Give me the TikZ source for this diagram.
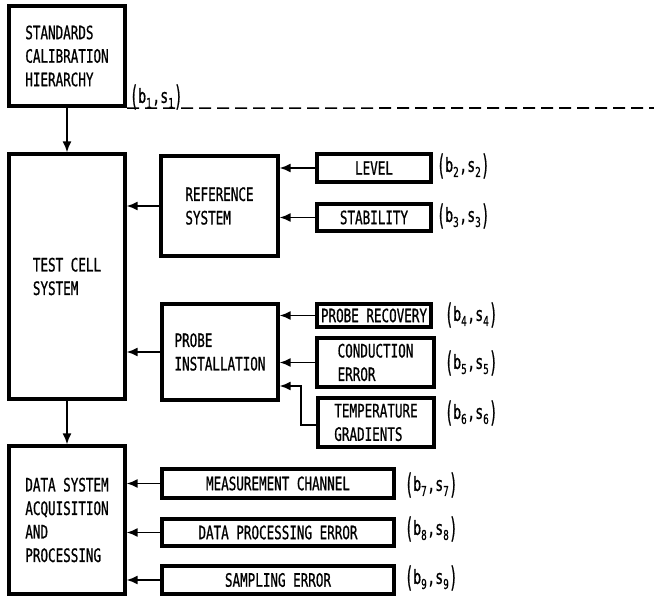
\documentclass[tikz,border=0pt]{standalone}
\usepackage{fontspec}
\newfontfamily\blockfont[FakeStretch=0.68, FakeBold=0.8]{DejaVu Sans Mono}
\usetikzlibrary{arrows.meta}
\newcommand{\bsl}[1]{\raisebox{-1pt}{\scalebox{1}[1.45]{(}}\raisebox{2pt}{b}\textsubscript{#1}\raisebox{2pt}{,s}\textsubscript{#1}\raisebox{-1pt}{\scalebox{1}[1.45]{)}}}

\tikzset{
  block/.style={draw, line width=3.2pt, align=left, inner sep=0pt,
    font=\blockfont\fontsize{18.5}{23.5}\selectfont},
  errbox/.style={block, line width=3.6pt},
  coef/.style={anchor=west, inner sep=0pt, font=\blockfont\fontsize{19.5}{19.5}\selectfont},
  feed/.style={line width=1.8pt, -{Latex[length=11pt,width=9pt]}}
}

\begin{document}
\begin{tikzpicture}[x=1pt, y=-1pt]
		%%%%% START %%%%%
		\useasboundingbox (0, 0) rectangle (654, 596);
		
		% left column
		\node[block, line width=4.2pt, minimum width=116pt, minimum height=100pt] (std) at (67, 56) {STANDARDS\\CALIBRATION\\HIERARCHY};
		\node[block, minimum width=116pt, minimum height=245pt] (test) at (67, 276.5) {TEST CELL\\SYSTEM};
		\node[block, minimum width=116pt, minimum height=148pt] (data) at (67, 520) {DATA SYSTEM\\ACQUISITION\\AND\\PROCESSING};
		
		% middle column
		\node[block, minimum width=117pt, minimum height=100pt] (ref) at (219.5, 206) {REFERENCE\\SYSTEM};
		\node[block, minimum width=116pt, minimum height=96pt] (probe) at (220, 352) {PROBE\\INSTALLATION};
		
		% error sources
		\node[errbox, minimum width=114pt, minimum height=28pt] (level) at (374, 168) {LEVEL};
		\node[errbox, minimum width=114pt, minimum height=27pt] (stab) at (374, 217.5) {STABILITY};
		\node[errbox, minimum width=114pt, minimum height=23pt] (recov) at (374, 315.5) {PROBE RECOVERY};
		\node[errbox, minimum width=117pt, minimum height=49pt] (cond) at (375.5, 362.5) {CONDUCTION\\ERROR};
		\node[errbox, minimum width=116pt, minimum height=49pt] (temp) at (376, 422.5) {TEMPERATURE\\GRADIENTS};
		\node[errbox, minimum width=232pt, minimum height=29pt] (meas) at (278, 483.5) {MEASUREMENT CHANNEL};
		\node[errbox, minimum width=232pt, minimum height=27pt] (dpe) at (278, 532.5) {DATA PROCESSING ERROR};
		\node[errbox, minimum width=232pt, minimum height=28pt] (samp) at (278, 580) {SAMPLING ERROR};
		
		% bias and precision labels
		\node[coef] (c1) at (130, 97) {\bsl{1}};
		\node[coef] (c2) at (437, 166) {\bsl{2}};
		\node[coef] (c3) at (437, 216) {\bsl{3}};
		\node[coef] (c4) at (445, 315) {\bsl{4}};
		\node[coef] (c5) at (445, 363) {\bsl{5}};
		\node[coef] (c6) at (445, 413) {\bsl{6}};
		\node[coef] (c7) at (405, 485) {\bsl{7}};
		\node[coef] (c8) at (405, 529) {\bsl{8}};
		\node[coef] (c9) at (405, 578) {\bsl{9}};
		
		\coordinate (dashend) at (654, 108);
		\draw[line width=1.6pt, dash pattern=on 12pt off 6pt] (std.south east) -- (dashend);
		
		% connectors
		\draw[feed] (std) -- (test);
		\draw[feed] (test) -- (data);
		\draw[feed] (ref.west) -- (ref.west -| test.east);
		\draw[feed] (probe.west) -- (probe.west -| test.east);
		\draw[feed] (level.west) -- (level.west -| ref.east);
		\draw[feed] (stab.west) -- (stab.west -| ref.east);
		\draw[feed] (recov.west) -- (recov.west -| probe.east);
		\draw[feed] (cond.west) -- (cond.west -| probe.east);
		\draw[feed] ([yshift=-2.5pt]temp.west) -- ++(-15, 0) |- ([yshift=-34pt]probe.east);
		\draw[feed] (meas.west) -- (meas.west -| data.east);
		\draw[feed] (dpe.west) -- (dpe.west -| data.east);
		\draw[feed] (samp.west) -- (samp.west -| data.east);
		
		%%%%% END %%%%%
	\end{tikzpicture}
\end{document}
